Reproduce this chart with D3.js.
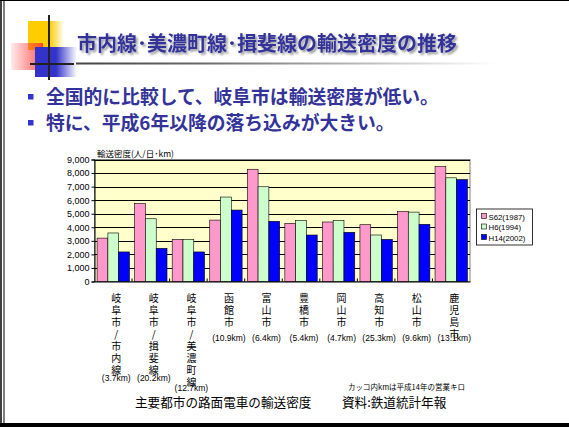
<!DOCTYPE html>
<html><head><meta charset="utf-8">
<script src="https://cdn.jsdelivr.net/npm/d3@7/dist/d3.min.js"></script>
<style>body{margin:0;background:#fff}svg{display:block}</style>
</head><body><svg id="c" width="569" height="427"></svg>
<script>
const title = "市内線･美濃町線･揖斐線の輸送密度の推移";
const bullets = ["全国的に比較して、岐阜市は輸送密度が低い。", "特に、平成6年以降の落ち込みが大きい。"];
const cities = ["岐阜市/市内線", "岐阜市/揖斐線", "岐阜市/美濃町線", "函館市", "富山市", "豊橋市", "岡山市", "高知市", "松山市", "鹿児島市"];
const kms = ["(3.7km)", "(20.2km)", "(12.7km)", "(10.9km)", "(6.4km)", "(5.4km)", "(4.7km)", "(25.3km)", "(9.6km)", "(13.1km)"];
const seriesNames = ["S62(1987)", "H6(1994)", "H14(2002)"];
const s62 = [3200, 5760, 3110, 4530, 8280, 4290, 4390, 4190, 5170, 8480];
const h6 = [3580, 4630, 3110, 6230, 6990, 4490, 4490, 3430, 5120, 7650];
const h14 = [2180, 2450, 2180, 5270, 4440, 3430, 3630, 3110, 4220, 7520];
const yTicks = [0, 1000, 2000, 3000, 4000, 5000, 6000, 7000, 8000, 9000];
const yTitle = "輸送密度(人/日･km)";
const note = "カッコ内kmは平成14年の営業キロ";
const caption1 = "主要都市の路面電車の輸送密度";
const caption2 = "資料:鉄道統計年報";

const colors = ["#FF99CC", "#CCFFCC", "#0000FF"];
const svg = d3.select("#c");
const jp = "'Noto Sans CJK JP','Noto Sans',sans-serif";
const sans = "'Liberation Sans',Arial,sans-serif";
const defs = svg.append("defs");

function grad(id, c, stops) {
  const g = defs.append("linearGradient").attr("id", id).attr("x1", 0).attr("x2", 1).attr("y1", 0).attr("y2", 0);
  stops.forEach(s => g.append("stop").attr("offset", s[0]).attr("stop-color", c).attr("stop-opacity", s[1]));
}
grad("gy", "#FFCC00", [[0,1],[0.6,1],[1,0]]);
grad("gr", "#FF3333", [[0,0.1],[0.85,0.7],[1,0.9]]);
grad("gb", "#3333CC", [[0,1],[0.5,1],[1,0]]);
grad("gl", "#444", [[0,1],[0.3,0.8],[1,0]]);
const blur = defs.append("filter").attr("id","sh").attr("x","-5%").attr("y","-20%").attr("width","110%").attr("height","140%");
blur.append("feGaussianBlur").attr("in","SourceAlpha").attr("stdDeviation",1.2).attr("result","b");
blur.append("feOffset").attr("in","b").attr("dx",1.5).attr("dy",1.5).attr("result","o");
blur.append("feComponentTransfer").attr("in","o").attr("result","o2").append("feFuncA").attr("type","linear").attr("slope",0.4);
const m = blur.append("feMerge"); m.append("feMergeNode").attr("in","o2"); m.append("feMergeNode").attr("in","SourceGraphic");

// slide frame
svg.append("line").attr("x1",0).attr("x2",569).attr("y1",0.5).attr("y2",0.5).attr("stroke","#000");
svg.append("line").attr("x1",1).attr("x2",1).attr("y1",0).attr("y2",427).attr("stroke","#000").attr("stroke-width",1.5);
svg.append("line").attr("x1",4).attr("x2",4).attr("y1",0).attr("y2",427).attr("stroke","#000").attr("stroke-width",1);
svg.append("rect").attr("x",0).attr("y",423).attr("width",569).attr("height",4).attr("fill","#000");

// decoration
svg.append("rect").attr("x",28).attr("y",21).attr("width",36).attr("height",29).attr("fill","url(#gy)");
svg.append("rect").attr("x",11).attr("y",43).attr("width",32).attr("height",27).attr("fill","url(#gr)");
svg.append("rect").attr("x",35).attr("y",47).attr("width",42).attr("height",30).attr("fill","url(#gb)");
svg.append("line").attr("x1",49).attr("x2",49).attr("y1",15).attr("y2",80).attr("stroke","#222").attr("stroke-width",2);
svg.append("line").attr("x1",30).attr("x2",74).attr("y1",64).attr("y2",64).attr("stroke","#222").attr("stroke-width",2);
svg.append("rect").attr("x",76).attr("y",62.5).attr("width",420).attr("height",2).attr("fill","url(#gl)");

svg.append("text").attr("x",77).attr("y",51).attr("font-family",jp).attr("font-weight","bold")
  .attr("font-size",20).attr("fill","#333399").attr("filter","url(#sh)").text(title);

bullets.forEach((b,i) => {
  const y = 97 + i*26;
  svg.append("rect").attr("x",28).attr("y",y-3).attr("width",5.5).attr("height",5.5).attr("fill","#3333CC");
  svg.append("text").attr("x",46).attr("y",y+7).attr("font-family",jp).attr("font-weight","bold")
    .attr("font-size",18.8).attr("fill","#333399").text(b);
});

// chart
const L = 94.5, R = 470, T = 159.5, B = 281.5;
const x = d3.scaleBand().domain(cities).range([L, R]).paddingInner(0).paddingOuter(0);
const x1 = d3.scaleBand().domain([0,1,2]).range([0, x.bandwidth()]).paddingOuter(0.24).paddingInner(0);
const y = d3.scaleLinear().domain([0, 9000]).range([B, T]);

svg.append("rect").attr("x",L).attr("y",T).attr("width",R-L).attr("height",B-T).attr("fill","#FFFFCC").attr("stroke","#808080").attr("stroke-width",1);
svg.append("g").selectAll("line").data(yTicks.slice(1)).join("line")
  .attr("x1",L).attr("x2",R).attr("y1",d=>Math.round(y(d))+0.5).attr("y2",d=>Math.round(y(d))+0.5).attr("stroke","#000").attr("stroke-width",1);

const data = [s62, h6, h14];
cities.forEach((c,i) => {
  data.forEach((ser,k) => {
    svg.append("rect").attr("x",x(c)+x1(k)).attr("y",y(ser[i])).attr("width",x1.bandwidth())
      .attr("height",B-y(ser[i])).attr("fill",colors[k]).attr("stroke","#000").attr("stroke-width",0.6);
  });
});

const ya = svg.append("g").attr("transform",`translate(${L},0)`)
  .call(d3.axisLeft(y).tickValues(yTicks).tickFormat(d3.format(",")).tickSize(3));
ya.select(".domain").attr("stroke","#000");
ya.selectAll("text").attr("font-family",sans).attr("font-size",9).attr("fill","#000").attr("x",-5);
const xa = svg.append("g").attr("transform",`translate(0,${B})`)
  .call(d3.axisBottom(x).tickValues([]).tickSizeOuter(0));
xa.select(".domain").attr("stroke","#000");
svg.append("g").selectAll("line").data(cities.slice(1)).join("line")
  .attr("x1",d=>x(d)).attr("x2",d=>x(d)).attr("y1",B-3).attr("y2",B).attr("stroke","#000");

svg.append("text").attr("x",97).attr("y",157).attr("font-family",jp).attr("font-size",8.5).attr("fill","#000").text(yTitle);

// x labels (vertical text)
cities.forEach((c,i) => {
  const cx = x(c) + x.bandwidth()/2 + 3;
  svg.append("text").attr("x",cx).attr("y",293.5)
    .attr("font-family",jp).attr("font-size",10).attr("fill","#000")
    .style("writing-mode","vertical-rl").style("text-orientation","upright")
    .style("letter-spacing","1.9px").text(c);
  const n = Array.from(c).length;
  const ky = n <= 4 ? 341 : Math.min(298 + n*11.9, 390.5);
  svg.append("text").attr("x",cx).attr("y",ky).attr("text-anchor","middle")
    .attr("font-family",sans).attr("font-size",8.5).attr("fill","#000").text(kms[i]);
});

// legend
const lg = svg.append("g").attr("transform","translate(476.5,209)");
lg.append("rect").attr("width",56).attr("height",36).attr("fill","#fff").attr("stroke","#000").attr("stroke-width",0.8);
seriesNames.forEach((s,k) => {
  lg.append("rect").attr("x",5).attr("y",4.5+k*10.5).attr("width",5).attr("height",5).attr("fill",colors[k]).attr("stroke","#000").attr("stroke-width",0.6);
  lg.append("text").attr("x",12).attr("y",10.5+k*10.5).attr("font-family",sans).attr("font-size",7.8).attr("fill","#000").text(s);
});

svg.append("text").attr("x",348).attr("y",390).attr("font-family",jp).attr("font-size",7.5).attr("fill","#000").text(note);
svg.append("text").attr("x",135).attr("y",406.5).attr("font-family",jp).attr("font-size",12.6).attr("fill","#000").text(caption1);
svg.append("text").attr("x",342).attr("y",406.5).attr("font-family",jp).attr("font-size",12.6).attr("fill","#000").text(caption2);
</script></body></html>
